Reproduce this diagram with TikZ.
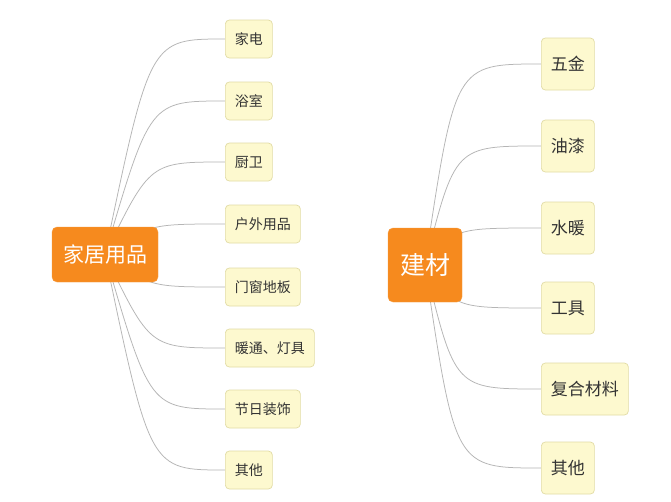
\documentclass[tikz,border=0pt]{standalone}
\usepackage{fontspec}
\newfontfamily\cjk{Noto Sans CJK SC}
\usetikzlibrary{backgrounds,calc}
\definecolor{orangec}{HTML}{F68A1E}
\definecolor{leaffill}{HTML}{FDF9CF}
\definecolor{leafdraw}{HTML}{E2DCA5}
\definecolor{linec}{HTML}{B5B5B5}
\definecolor{textc}{HTML}{333333}
\tikzset{
  rootbox/.style={fill=orangec, draw=orangec!85!white, rounded corners=5pt, text=white, inner sep=0pt, align=center},
  leafL/.style={fill=leaffill, draw=leafdraw, line width=0.7pt, rounded corners=4pt, text=textc, anchor=west,
                minimum height=38pt, inner xsep=9.5pt, inner ysep=0pt, font=\cjk\fontsize{14pt}{14pt}\selectfont},
  leafR/.style={leafL, minimum height=52pt, font=\cjk\fontsize{17pt}{17pt}\selectfont},
  conn/.style={draw=linec, line width=0.75pt}
}
\begin{document}
\begin{tikzpicture}[x=1pt,y=-1pt]
\useasboundingbox (0,0) rectangle (671,501);
% roots
\node[rootbox, minimum width=106pt, minimum height=55pt, font=\cjk\fontsize{21pt}{21pt}\selectfont] (L) at (105,254.5) {家居用品};
\node[rootbox, minimum width=74pt, minimum height=74pt, font=\cjk\fontsize{25pt}{25pt}\selectfont] (R) at (425,265) {建材};
% left leaves
\node[leafL] (l1) at (225,39) {家电};
\node[leafL] (l2) at (225,101) {浴室};
\node[leafL] (l3) at (225,162) {厨卫};
\node[leafL] (l4) at (225,224) {户外用品};
\node[leafL] (l5) at (225,287) {门窗地板};
\node[leafL] (l6) at (225,348) {暖通、灯具};
\node[leafL] (l7) at (225,409) {节日装饰};
\node[leafL] (l8) at (225,470) {其他};
% right leaves
\node[leafR] (r1) at (541,64) {五金};
\node[leafR] (r2) at (541,146) {油漆};
\node[leafR] (r3) at (541,228) {水暖};
\node[leafR] (r4) at (541,308) {工具};
\node[leafR] (r5) at (541,389) {复合材料};
\node[leafR] (r6) at (541,468) {其他};
\coordinate (Lc) at ([xshift=45pt]L.center);
\coordinate (Rc) at ([xshift=30pt]R.center);
\begin{scope}[on background layer]
\fill[white] (0,0) rectangle (671,501);
\foreach \n in {l1,l2,l3,l4,l5,l6,l7,l8}
  \draw[conn] (L.center) .. controls (Lc |- \n.west) .. (\n.west);
\foreach \n in {r1,r2,r3,r4,r5,r6}
  \draw[conn] (R.center) .. controls (Rc |- \n.west) .. (\n.west);
\end{scope}
\end{tikzpicture}
\end{document}
